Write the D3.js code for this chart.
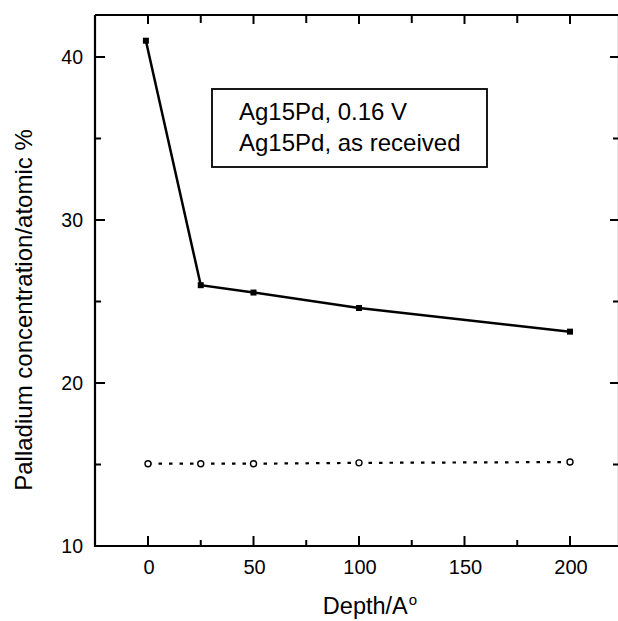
<!DOCTYPE html>
<html><head><meta charset="utf-8">
<script src="https://cdn.jsdelivr.net/npm/d3@7"></script>
<style>body{margin:0;background:#fff}svg{display:block}text{font-family:"Liberation Sans",Arial,sans-serif;fill:#000}</style>
</head><body>
<svg id="c" width="618" height="621"></svg>
<script>
const depthPolarized = [-1, 25, 50, 100, 200];
const pdPolarized = [41.0, 26.0, 25.55, 24.6, 23.15];
const depthReceived = [0, 25, 50, 100, 200];
const pdReceived = [15.05, 15.05, 15.05, 15.1, 15.15];
const xTicks = [0, 50, 100, 150, 200];
const xMinor = [25, 75, 125, 175];
const yTicks = [10, 20, 30, 40];
const yMinor = [15, 25, 35];
const legendLines = ["Ag15Pd, 0.16 V", "Ag15Pd, as received"];

const svg = d3.select("#c");
const x = d3.scaleLinear().domain([0, 200]).range([148, 570]);
const y = d3.scaleLinear().domain([10, 40]).range([546, 57]);
const L = 95, R = 619, T = 15, B = 546;

const g = svg.append("g");
g.append("path").attr("d", `M${L},${T}V${B}H${R}V${T}H${L}`).attr("fill", "none").attr("stroke", "#000").attr("stroke-width", 2.2);

xTicks.forEach(v => {
  g.append("line").attr("x1", x(v)).attr("x2", x(v)).attr("y1", B).attr("y2", B - 10).attr("stroke", "#000").attr("stroke-width", 2);
  g.append("line").attr("x1", x(v)).attr("x2", x(v)).attr("y1", T).attr("y2", T + 9).attr("stroke", "#000").attr("stroke-width", 2);
  g.append("text").attr("x", x(v) + 1).attr("y", 574).attr("text-anchor", "middle").attr("font-size", 20).text(v);
});
xMinor.forEach(v => {
  g.append("line").attr("x1", x(v)).attr("x2", x(v)).attr("y1", B).attr("y2", B - 6).attr("stroke", "#000").attr("stroke-width", 2);
  g.append("line").attr("x1", x(v)).attr("x2", x(v)).attr("y1", T).attr("y2", T + 8).attr("stroke", "#000").attr("stroke-width", 2);
});
yTicks.forEach(v => {
  g.append("line").attr("x1", L).attr("x2", L + 10).attr("y1", y(v)).attr("y2", y(v)).attr("stroke", "#000").attr("stroke-width", 2);
  g.append("line").attr("x1", R).attr("x2", R - 9).attr("y1", y(v)).attr("y2", y(v)).attr("stroke", "#000").attr("stroke-width", 2);
  g.append("text").attr("x", 83).attr("y", y(v) + 7).attr("text-anchor", "end").attr("font-size", 19.5).text(v);
});
yMinor.forEach(v => {
  g.append("line").attr("x1", L).attr("x2", L + 6).attr("y1", y(v)).attr("y2", y(v)).attr("stroke", "#000").attr("stroke-width", 2);
  g.append("line").attr("x1", R).attr("x2", R - 6).attr("y1", y(v)).attr("y2", y(v)).attr("stroke", "#000").attr("stroke-width", 2);
});

const xt = g.append("text").attr("x", 370).attr("y", 614).attr("text-anchor", "middle").attr("font-size", 23.5);
xt.append("tspan").text("Depth/A");
xt.append("tspan").attr("dx", 1).attr("dy", -9).attr("font-size", 15).text("o");
g.append("text").attr("transform", "translate(32,310) rotate(-90)").attr("text-anchor", "middle").attr("font-size", 24).text("Palladium concentration/atomic %");

const d1 = depthPolarized.map((d, i) => [d, pdPolarized[i]]);
const d2 = depthReceived.map((d, i) => [d, pdReceived[i]]);
const line = d3.line().x(d => x(d[0])).y(d => y(d[1]));
g.append("path").attr("d", line(d2)).attr("fill", "none").attr("stroke", "#000").attr("stroke-width", 2.2).attr("stroke-dasharray", "3.5,7");
g.append("path").attr("d", line(d1)).attr("fill", "none").attr("stroke", "#000").attr("stroke-width", 2.5);
g.selectAll(".sq").data(d1).enter().append("rect").attr("x", d => x(d[0]) - 3).attr("y", d => y(d[1]) - 3).attr("width", 6).attr("height", 6).attr("fill", "#000");
g.selectAll(".ci").data(d2).enter().append("circle").attr("cx", d => x(d[0])).attr("cy", d => y(d[1])).attr("r", 3).attr("fill", "#fff").attr("stroke", "#000").attr("stroke-width", 1.4);

g.append("rect").attr("x", 212).attr("y", 89).attr("width", 275).attr("height", 78).attr("fill", "none").attr("stroke", "#000").attr("stroke-width", 1.8);
legendLines.forEach((t, i) => {
  g.append("text").attr("x", 239).attr("y", 120 + i * 31).attr("font-size", 24).text(t);
});
</script>
</body></html>
